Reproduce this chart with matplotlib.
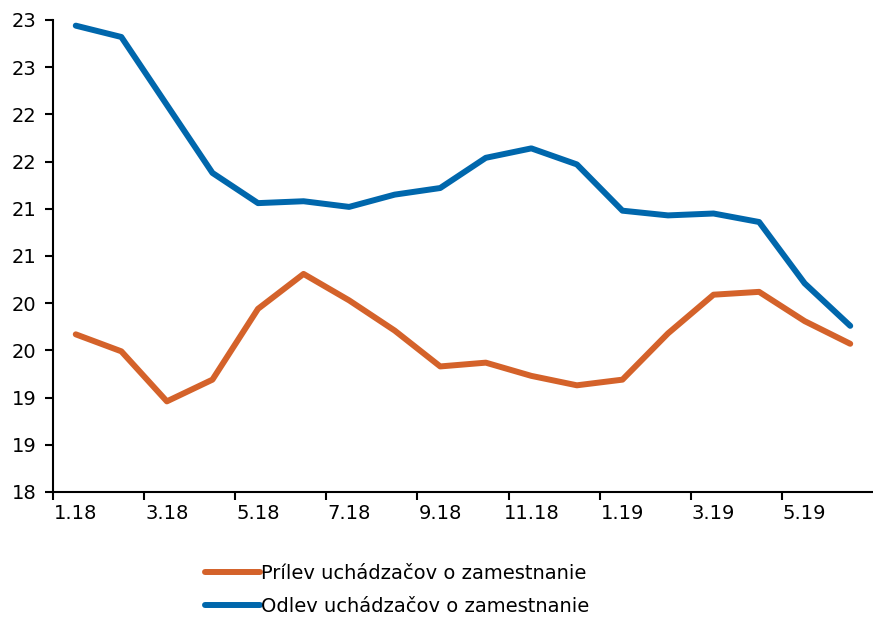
import numpy as np
import matplotlib.pyplot as plt

months = ["1.18", "2.18", "3.18", "4.18", "5.18", "6.18", "7.18", "8.18", "9.18",
          "10.18", "11.18", "12.18", "1.19", "2.19", "3.19", "4.19", "5.19", "6.19"]
prilev = [19.67, 19.49, 18.96, 19.19, 19.94, 20.31, 20.03, 19.71, 19.33,
          19.37, 19.23, 19.13, 19.19, 19.68, 20.09, 20.12, 19.81, 19.57]
odlev = [22.94, 22.82, 22.10, 21.38, 21.06, 21.08, 21.02, 21.15, 21.22,
         21.54, 21.64, 21.47, 20.98, 20.93, 20.95, 20.86, 20.21, 19.76]
y_ticks = [18, 18.5, 19, 19.5, 20, 20.5, 21, 21.5, 22, 22.5, 23]
y_labels = ["18", "19", "19", "20", "20", "21", "21", "22", "22", "23", "23"]

plt.rcParams['font.family'] = ['DejaVu Sans']
plt.rcParams['font.size'] = 14

fig = plt.figure(figsize=(8.73, 6.19), dpi=100)
ax = fig.add_axes([0.0607, 0.2052, 0.9393, 0.7625])

x = np.arange(len(months))
ax.plot(x, prilev, color='#D4622A', lw=4.3, solid_capstyle='round', solid_joinstyle='round',
        label='Prílev uchádzačov o zamestnanie')
ax.plot(x, odlev, color='#0067AC', lw=4.3, solid_capstyle='round', solid_joinstyle='round',
        label='Odlev uchádzačov o zamestnanie')

ax.set_xlim(-0.5, len(months) - 0.5)
ax.set_ylim(18, 23)
ax.set_yticks(y_ticks)
ax.set_yticklabels(y_labels, fontsize=14)

ax.set_xticks(np.arange(-0.5, len(months) - 1, 2))
ax.set_xticklabels([])
ax.set_xticks(x[::2], minor=True)
ax.set_xticklabels(months[::2], minor=True, fontsize=14)
ax.tick_params(axis='x', which='minor', length=0, pad=9)
ax.tick_params(axis='x', which='major', length=6, width=1.5)
ax.tick_params(axis='y', length=6, width=1.5, pad=6)

for s in ['top', 'right']:
    ax.spines[s].set_visible(False)
for s in ['left', 'bottom']:
    ax.spines[s].set_linewidth(1.5)

fig.legend(loc='upper left', bbox_to_anchor=(0.226, 0.101), frameon=False, ncol=1,
           fontsize=14, handlelength=2.8, handletextpad=0.1, labelspacing=0.72,
           borderaxespad=0)

fig.savefig('out.png', dpi=100)
